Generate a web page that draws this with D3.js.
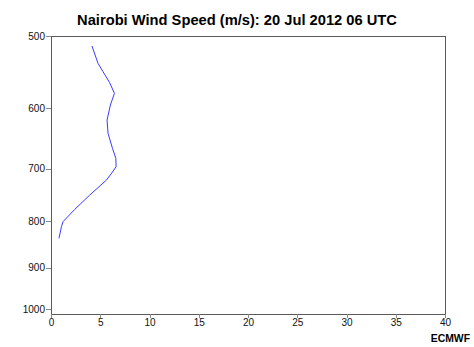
<!DOCTYPE html>
<html>
<head>
<meta charset="utf-8">
<script src="https://cdn.jsdelivr.net/npm/d3@7/dist/d3.min.js"></script>
<style>
  html, body { margin: 0; padding: 0; background: #fff; }
  svg { display: block; font-family: "Liberation Sans", Arial, Helvetica, sans-serif; }
</style>
</head>
<body>
<svg id="chart" width="474" height="347"></svg>
<script>
// Wind speed profile (m/s) against pressure level (hPa)
const pressure = [512.9, 535.9, 547.4, 563.0, 578.3, 595.7, 618.9, 640.1, 664.9, 682.0,
                  696.7, 706.2, 720.7, 748.8, 776.4, 801.1, 811.4, 835.6];
const windSpeed = [4.16, 4.77, 5.28, 5.96, 6.44, 6.03, 5.69, 5.79, 6.24, 6.58,
                   6.61, 6.24, 5.63, 3.93, 2.41, 1.22, 1.06, 0.81];
const xTicks = [0, 5, 10, 15, 20, 25, 30, 35, 40];
const yTicks = [500, 600, 700, 800, 900, 1000];
const title = "Nairobi Wind Speed (m/s): 20 Jul 2012 06 UTC";
const credit = "ECMWF";

const svg = d3.select("#chart");
const m = { left: 51, right: 445, top: 36, bottom: 314 };

const x = d3.scaleLinear().domain([0, 40]).range([m.left, m.right]);
const y = d3.scaleLog().domain([500, 1012.6]).range([m.top, m.bottom]);

// frame
svg.append("rect")
  .attr("x", m.left).attr("y", m.top)
  .attr("width", m.right - m.left).attr("height", m.bottom - m.top)
  .attr("fill", "none").attr("stroke", "#5a5a5a").attr("stroke-width", 1)
  .attr("shape-rendering", "crispEdges");

// axes
const xAxis = svg.append("g")
  .attr("transform", `translate(0,${m.bottom})`)
  .call(d3.axisBottom(x).tickValues(xTicks).tickSize(4).tickPadding(1).tickFormat(d3.format("d")));
const yAxis = svg.append("g")
  .attr("transform", `translate(${m.left},0)`)
  .call(d3.axisLeft(y).tickValues(yTicks).tickSize(5).tickPadding(1).tickFormat(d3.format("d")));

[xAxis, yAxis].forEach(g => {
  g.select(".domain").remove();
  g.selectAll(".tick line").attr("stroke", "#888").attr("shape-rendering", "crispEdges");
  g.selectAll(".tick text").attr("fill", "#111").style("font-size", "10px")
    .style("font-family", "'Liberation Sans', Arial, sans-serif");
});

// profile line
const line = d3.line()
  .x((d, i) => x(windSpeed[i]))
  .y(d => y(d));
svg.append("path")
  .datum(pressure)
  .attr("d", line)
  .attr("fill", "none")
  .attr("stroke", "#3b3bff")
  .attr("stroke-width", 1);

// title
svg.append("text")
  .attr("x", 237).attr("y", 24.5)
  .attr("text-anchor", "middle")
  .style("font-size", "14.7px").style("font-weight", "bold")
  .attr("fill", "#000")
  .text(title);

// credit
svg.append("text")
  .attr("x", 470).attr("y", 342)
  .attr("text-anchor", "end")
  .style("font-size", "10.4px").style("font-weight", "bold")
  .attr("fill", "#000")
  .text(credit);
</script>
</body>
</html>
